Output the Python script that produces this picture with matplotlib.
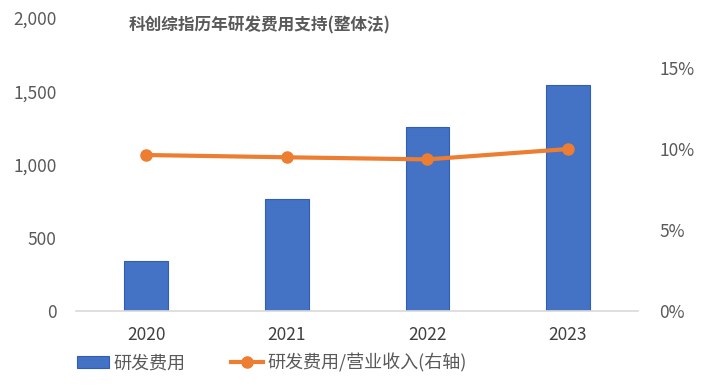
import matplotlib.pyplot as plt
from matplotlib.ticker import FuncFormatter

plt.rcParams['font.family'] = ['Noto Sans CJK SC', 'DejaVu Sans']

# data
years = ['2020', '2021', '2022', '2023']
rd_spend = [342, 764, 1256, 1543]
rd_ratio = [9.63, 9.49, 9.36, 10.0]  # percent of revenue, right axis

bar_color = '#4472C4'
line_color = '#ED7D31'
text_color = '#595959'

fig = plt.figure(figsize=(7.06, 3.91), dpi=100)
ax = fig.add_axes([0.1076, 0.2046, 0.7964, 0.7494])
ax2 = ax.twinx()

x = range(len(years))
bars = ax.bar(x, rd_spend, width=0.31, color=bar_color, edgecolor='#2F5DB8',
              linewidth=0.8, label='研发费用', zorder=2)
line, = ax2.plot(x, rd_ratio, color=line_color, linewidth=3, marker='o',
                 markersize=8, label='研发费用/营业收入(右轴)', zorder=3)

ax.set_xlim(-0.5, 3.5)
ax.set_ylim(0, 2000)
ax.set_yticks([0, 500, 1000, 1500, 2000])
ax.yaxis.set_major_formatter(FuncFormatter(lambda v, p: f'{int(v):,}'))
ax2.set_ylim(0, 18.09)
ax2.set_yticks([0, 5, 10, 15])
ax2.yaxis.set_major_formatter(FuncFormatter(lambda v, p: f'{int(v)}%'))

ax.set_xticks(list(x))
ax.set_xticklabels(years)

for a in (ax, ax2):
    for s in a.spines.values():
        s.set_visible(False)
    a.tick_params(length=0, labelsize=12.5, colors=text_color)
ax.spines['bottom'].set_visible(True)
ax.spines['bottom'].set_color('#D9D9D9')
ax.spines['bottom'].set_linewidth(1.2)
ax.tick_params(axis='y', pad=14)
ax.tick_params(axis='x', pad=11, labelcolor='#404040')
ax2.tick_params(axis='y', pad=15)
ax.set_zorder(ax2.get_zorder() - 1)
ax2.patch.set_visible(False)

fig.text(0.367, 0.935, '科创综指历年研发费用支持(整体法)', ha='center', va='center',
         fontsize=12, fontweight='bold', color=text_color)

fig.legend([bars, line], ['研发费用', '研发费用/营业收入(右轴)'],
           loc='center', bbox_to_anchor=(0.385, 0.072), ncol=2, frameon=False,
           fontsize=13, labelcolor=text_color, handlelength=1.8,
           columnspacing=2.5, handletextpad=0.25)

fig.savefig('out.png', dpi=100)
